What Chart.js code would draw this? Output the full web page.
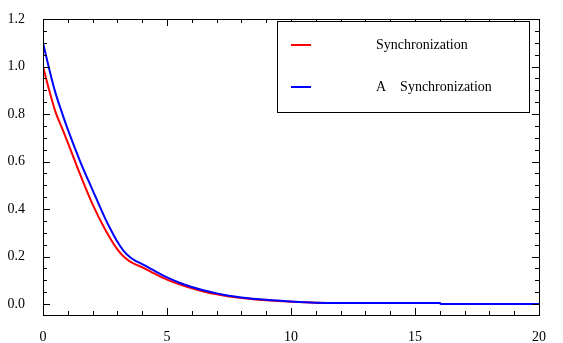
<!DOCTYPE html>
<html lang="en">
<head>
  <meta charset="UTF-8"/>
  <title>Synchronization decay</title>
  <script src="https://cdn.jsdelivr.net/npm/chart.js"></script>
  <style>
    html, body { margin: 0; padding: 0; background: #fff; }
    .wrap { width: 563px; height: 343px; position: relative; }
  </style>
</head>
<body>
<div class="wrap"><canvas id="syncChart" width="563" height="343"></canvas></div>

<script>
  // values
  const timeSteps = [0, 0.25, 0.5, 0.75, 1, 1.5, 2, 2.5, 2.75, 3, 3.25, 3.5, 3.75, 4, 4.5, 5, 5.5, 6, 6.5, 7, 7.5, 8, 9, 10, 11, 12, 13, 14, 15, 16, 16.05, 18, 20];
  const syncRed  = [1.0, 0.9, 0.81, 0.745, 0.68, 0.545, 0.42, 0.315, 0.27, 0.23, 0.2, 0.18, 0.166, 0.155, 0.128, 0.103, 0.083, 0.066, 0.052, 0.041, 0.032, 0.026, 0.016, 0.01, 0.006, 0.005, 0.005, 0.005, 0.005, 0.004, 0.0, 0.0, 0.0];
  const syncBlue = [1.1, 0.99, 0.89, 0.81, 0.735, 0.6, 0.48, 0.362, 0.31, 0.262, 0.224, 0.198, 0.181, 0.168, 0.14, 0.112, 0.09, 0.072, 0.057, 0.045, 0.035, 0.028, 0.018, 0.011, 0.006, 0.005, 0.005, 0.005, 0.005, 0.004, 0.0, 0.0, 0.0];
  const seriesNames = ['Synchronization', 'A    Synchronization'];
  const xTicks = [0, 5, 10, 15, 20];
  const yTicks = [0.0, 0.2, 0.4, 0.6, 0.8, 1.0, 1.2];

  const serif = '"Liberation Serif", "DejaVu Serif", serif';

  function points(ys) {
    return timeSteps.map((t, i) => ({ x: t, y: ys[i] }));
  }

  // frame with inward ticks on all four sides, plus the boxed legend
  const framePlugin = {
    id: 'frame',
    afterDraw(chart) {
      const { ctx, chartArea: a, scales: { x, y } } = chart;
      ctx.save();
      ctx.strokeStyle = '#000';
      ctx.lineWidth = 1;
      ctx.strokeRect(a.left + 0.5, a.top + 0.5, a.right - a.left, a.bottom - a.top);

      ctx.beginPath();
      for (let v = 0; v <= 20; v += 1) {
        const px = Math.round(x.getPixelForValue(v)) + 0.5;
        const len = v % 5 === 0 ? 7 : 4;
        ctx.moveTo(px, a.bottom); ctx.lineTo(px, a.bottom - len);
        ctx.moveTo(px, a.top); ctx.lineTo(px, a.top + len);
      }
      for (let k = 0; k <= 24; k++) {
        const py = Math.round(y.getPixelForValue(k * 0.05)) + 0.5;
        const len = k % 4 === 0 ? 7 : 4;
        ctx.moveTo(a.left, py); ctx.lineTo(a.left + len, py);
        ctx.moveTo(a.right, py); ctx.lineTo(a.right - len, py);
      }
      ctx.stroke();

      // legend box
      const bx = 277.5, by = 21.5, bw = 252, bh = 91;
      ctx.fillStyle = '#fff';
      ctx.fillRect(bx, by, bw, bh);
      ctx.strokeRect(bx, by, bw, bh);
      ctx.font = '14px ' + serif;
      ctx.textBaseline = 'middle';
      chart.data.datasets.forEach((ds, i) => {
        const ly = 45 + i * 42;
        ctx.strokeStyle = ds.borderColor;
        ctx.lineWidth = 2;
        ctx.beginPath();
        ctx.moveTo(291, ly); ctx.lineTo(311, ly);
        ctx.stroke();
        ctx.fillStyle = '#000';
        ctx.fillText(ds.label, 376, ly);
      });
      ctx.restore();
    }
  };

  new Chart(document.getElementById('syncChart'), {
    type: 'line',
    data: {
      datasets: [
        { label: seriesNames[0], data: points(syncRed), borderColor: '#ff0000', borderWidth: 2, pointRadius: 0, cubicInterpolationMode: 'monotone', order: 2 },
        { label: seriesNames[1], data: points(syncBlue), borderColor: '#0000ff', borderWidth: 2, pointRadius: 0, cubicInterpolationMode: 'monotone', order: 1 }
      ]
    },
    options: {
      responsive: false,
      animation: false,
      layout: { padding: { left: 0, right: 24, top: 19, bottom: 0 } },
      plugins: { legend: { display: false }, tooltip: { enabled: false } },
      scales: {
        x: {
          type: 'linear', min: 0, max: 20,
          afterBuildTicks: s => { s.ticks = xTicks.map(v => ({ value: v })); },
          afterFit: s => { s.height = 28; },
          grid: { display: false },
          border: { display: false },
          ticks: { color: '#000', font: { family: serif, size: 14 }, padding: 6, maxRotation: 0 }
        },
        y: {
          type: 'linear', min: -0.046, max: 1.2,
          afterBuildTicks: s => { s.ticks = yTicks.map(v => ({ value: v })); },
          afterFit: s => { s.width = 43; },
          grid: { display: false },
          border: { display: false },
          ticks: { color: '#000', font: { family: serif, size: 14 }, padding: 10, callback: v => v.toFixed(1) }
        }
      }
    },
    plugins: [framePlugin]
  });
</script>
</body>
</html>
